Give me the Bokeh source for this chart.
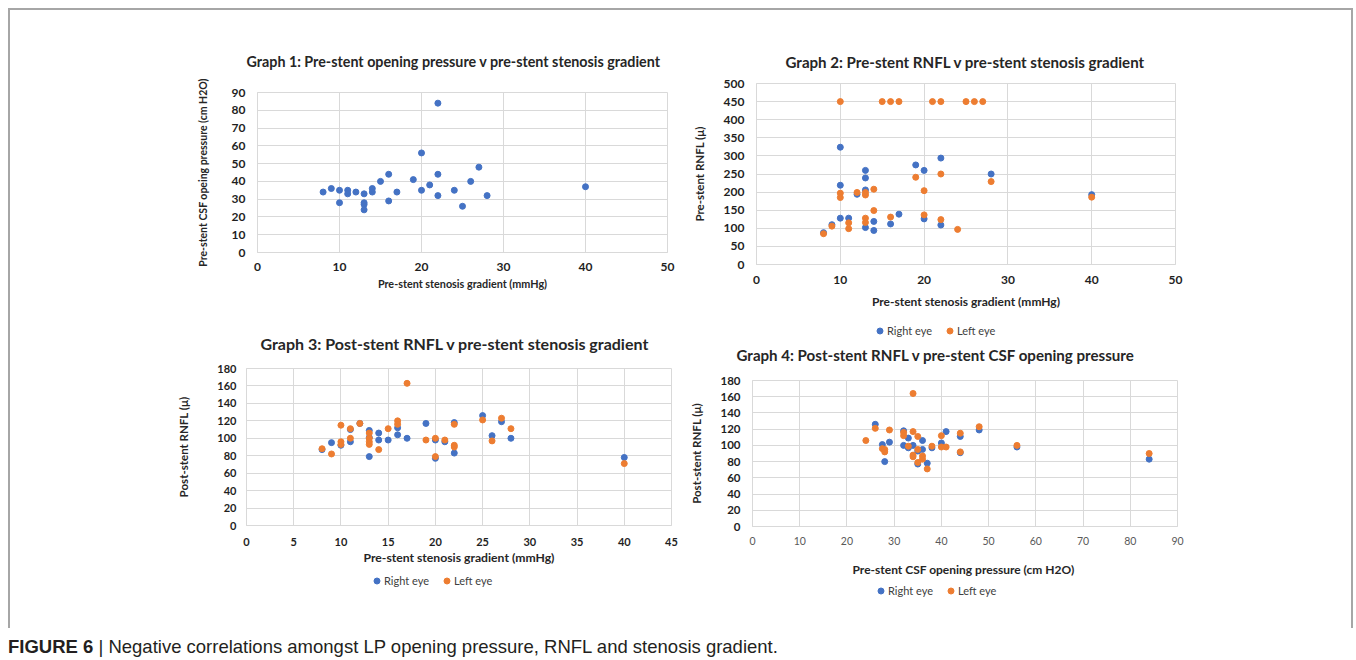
from bokeh.plotting import figure
from bokeh.models import Legend, LegendItem, Div, Title, FixedTicker, Range1d
from bokeh.layouts import column, row
from bokeh.embed import file_html
from bokeh.resources import INLINE

# ---------------- data ----------------
# Graph 1: pre-stent stenosis gradient (mmHg) vs pre-stent CSF opening pressure (cm H2O)
g1_x = [8, 9, 10, 10, 11, 11, 12, 13, 13, 13, 13, 14, 14, 15, 16, 16, 17, 19, 20, 20, 21, 22, 22, 22, 24, 25, 26, 27, 28, 40]
g1_y = [34, 36, 35, 28, 35, 33, 34, 33, 28, 27, 24, 36, 34, 40, 44, 29, 34, 41, 56, 35, 38, 84, 44, 32, 35, 26, 40, 48, 32, 37]

# Graph 2: pre-stent stenosis gradient vs pre-stent RNFL
g2_right_x = [8, 9, 10, 10, 10, 11, 12, 13, 13, 13, 13, 14, 14, 16, 17, 19, 20, 20, 22, 22, 28, 40]
g2_right_y = [88, 110, 324, 219, 128, 128, 194, 260, 239, 206, 102, 119, 94, 112, 139, 275, 260, 126, 294, 109, 250, 193]
g2_left_x = [8, 9, 10, 10, 10, 11, 11, 12, 13, 13, 13, 13, 14, 14, 15, 16, 16, 17, 19, 20, 20, 21, 22, 22, 22, 24, 25, 26, 27, 28, 40]
g2_left_y = [85, 106, 450, 197, 185, 115, 99, 199, 199, 192, 128, 116, 208, 149, 450, 450, 131, 450, 241, 204, 137, 450, 450, 250, 124, 97, 450, 450, 450, 229, 186]

# Graph 3: pre-stent stenosis gradient vs post-stent RNFL
g3_right_x = [8, 9, 10, 11, 11, 12, 13, 13, 13, 14, 14, 15, 16, 16, 17, 19, 20, 20, 21, 22, 22, 25, 26, 27, 28, 40]
g3_right_y = [87, 95, 92, 110, 96, 117, 109, 101, 79, 106, 98, 98, 112, 104, 100, 117, 98, 77, 96, 118, 83, 126, 103, 119, 100, 78]
g3_left_x = [8, 9, 10, 10, 10, 11, 11, 12, 13, 13, 13, 13, 14, 15, 16, 16, 17, 19, 20, 20, 21, 22, 22, 22, 25, 26, 27, 28, 40]
g3_left_y = [88, 82, 115, 96, 93, 111, 100, 117, 106, 100, 96, 93, 87, 111, 120, 116, 163, 98, 100, 79, 98, 116, 92, 90, 121, 97, 123, 111, 71]

# Graph 4: pre-stent CSF opening pressure vs post-stent RNFL
g4_right_x = [26, 27.5, 28, 29, 32, 32, 33, 33, 34, 35, 35, 36, 36, 37, 38, 40, 41, 44, 44, 48, 56, 84]
g4_right_y = [126, 101, 80, 104, 118, 100, 109, 97, 100, 93, 77, 106, 95, 78, 97, 103, 117, 111, 91, 119, 98, 83]
g4_left_x = [24, 26, 27.5, 28, 28, 29, 32, 32, 33, 34, 34, 34, 34, 35, 35, 35, 36, 36, 37, 38, 40, 40, 41, 44, 44, 48, 56, 84]
g4_left_y = [106, 121, 96, 95, 92, 119, 116, 112, 99, 164, 117, 88, 86, 111, 95, 79, 87, 83, 71, 99, 112, 98, 98, 115, 92, 123, 100, 90]

# tick values
g1_xticks = [0, 10, 20, 30, 40, 50]
g1_yticks = [0, 10, 20, 30, 40, 50, 60, 70, 80, 90]
g2_xticks = [0, 10, 20, 30, 40, 50]
g2_yticks = [0, 50, 100, 150, 200, 250, 300, 350, 400, 450, 500]
g3_xticks = [0, 5, 10, 15, 20, 25, 30, 35, 40, 45]
g3_yticks = [0, 20, 40, 60, 80, 100, 120, 140, 160, 180]
g4_xticks = [0, 10, 20, 30, 40, 50, 60, 70, 80, 90]
g4_yticks = [0, 20, 40, 60, 80, 100, 120, 140, 160, 180]

titles = [
    "Graph 1: Pre-stent opening pressure v pre-stent stenosis gradient",
    "Graph 2: Pre-stent RNFL v pre-stent stenosis gradient",
    "Graph 3: Post-stent RNFL v pre-stent stenosis gradient",
    "Graph 4: Post-stent RNFL v pre-stent CSF opening pressure",
]
series_names = ["Right eye", "Left eye"]

BLUE = "#4472C4"
ORANGE = "#ED7D31"
GRID = "#d9d9d9"
FONT = "Lato"


def make_fig(title, w, h, mb, xticks, yticks, xlabel, ylabel, st, margin=None):
    kw = {}
    if margin is not None:
        kw["margin"] = margin
    p = figure(width=w, height=h, output_backend="svg", toolbar_location=None,
               x_range=Range1d(xticks[0], xticks[-1]), y_range=Range1d(yticks[0], yticks[-1]),
               min_border_left=mb[0], min_border_right=mb[1],
               min_border_top=mb[2], min_border_bottom=mb[3],
               background_fill_color="white", border_fill_color=None,
               outline_line_color=GRID, **kw)
    t = Title(text=title, align="left", text_font=FONT, text_font_style="bold",
              text_font_size=st["title_size"], text_color="#262626",
              standoff=st["title_standoff"], offset=st["title_offset"])
    p.add_layout(t, "above")
    p.xaxis.ticker = FixedTicker(ticks=xticks)
    p.yaxis.ticker = FixedTicker(ticks=yticks)
    for ax in (p.xaxis[0], p.yaxis[0]):
        ax.axis_line_color = GRID
        ax.major_tick_line_color = None
        ax.minor_tick_line_color = None
        ax.major_tick_out = 0
        ax.major_tick_in = 0
        ax.minor_tick_out = 0
        ax.minor_tick_in = 0
        ax.major_label_text_font = FONT
        ax.axis_label_text_font = FONT
        ax.axis_label_text_font_style = "bold"
        ax.axis_label_text_color = "#262626"
    p.xaxis.axis_label = xlabel
    p.yaxis.axis_label = ylabel
    p.xaxis.major_label_text_font_size = st["xtick_size"]
    p.yaxis.major_label_text_font_size = st["ytick_size"]
    p.xaxis.major_label_text_font_style = st["xtick_style"]
    p.yaxis.major_label_text_font_style = "bold"
    p.xaxis.major_label_text_color = st["xtick_color"]
    p.yaxis.major_label_text_color = "#1f1f1f"
    p.xaxis.major_label_standoff = st["xtick_standoff"]
    p.yaxis.major_label_standoff = st["ytick_standoff"]
    p.xaxis.axis_label_text_font_size = st["xlabel_size"]
    p.yaxis.axis_label_text_font_size = st["ylabel_size"]
    p.xaxis.axis_label_standoff = st["xlabel_standoff"]
    p.yaxis.axis_label_standoff = st["ylabel_standoff"]
    p.xgrid.grid_line_color = GRID
    p.ygrid.grid_line_color = GRID
    p.xgrid.ticker = FixedTicker(ticks=xticks)
    p.ygrid.ticker = FixedTicker(ticks=yticks)
    return p


def legend_fig(w, h, x, y, rx, ry, lx, ly):
    # a strip that only carries the series legend below a chart;
    # its range (0..1) lies outside the data, so only the legend shows
    lf = figure(width=w, height=h, output_backend="svg", toolbar_location=None,
                min_border=0, x_axis_location=None, y_axis_location=None,
                x_range=Range1d(0, 1), y_range=Range1d(0, 1),
                outline_line_color=None, background_fill_color=None, border_fill_color=None)
    lf.xgrid.visible = False
    lf.ygrid.visible = False
    rb = lf.scatter(rx, ry, size=6, color=BLUE)
    ro = lf.scatter(lx, ly, size=6, color=ORANGE)
    leg = Legend(items=[LegendItem(label=series_names[0], renderers=[rb]),
                        LegendItem(label=series_names[1], renderers=[ro])],
                 orientation="horizontal", location=(x, y),
                 border_line_color=None, background_fill_alpha=0,
                 padding=0, margin=0, spacing=10, label_standoff=0,
                 glyph_width=15, glyph_height=15, label_height=15,
                 label_text_font=FONT, label_text_font_size="11px",
                 label_text_color="#404040")
    lf.add_layout(leg)
    return lf


# Graph 1
p1 = make_fig(titles[0], 670, 310, (247, 13, 82, 68), g1_xticks, g1_yticks,
              "Pre-stent stenosis gradient (mmHg)", "Pre-stent CSF opeing pressure (cm H2O)",
              dict(title_size="14.3px", title_standoff=46, title_offset=-11,
                   xtick_size="12px", ytick_size="12px", xtick_style="bold", xtick_color="#1f1f1f",
                   xtick_standoff=10, ytick_standoff=12, xlabel_size="10.8px", ylabel_size="10.5px",
                   xlabel_standoff=3, ylabel_standoff=20))
p1.scatter(g1_x, g1_y, size=6, color=BLUE)

# Graph 2
p2 = make_fig(titles[1], 671, 302, (76, 176, 73, 48), g2_xticks, g2_yticks,
              "Pre-stent stenosis gradient (mmHg)", "Pre-stent RNFL (μ)",
              dict(title_size="15.1px", title_standoff=25, title_offset=29,
                   xtick_size="12px", ytick_size="12px", xtick_style="bold", xtick_color="#1f1f1f",
                   xtick_standoff=11, ytick_standoff=12, xlabel_size="12px", ylabel_size="11.5px",
                   xlabel_standoff=7, ylabel_standoff=15))
p2.scatter(g2_right_x, g2_right_y, size=6, color=BLUE)
p2.scatter(g2_left_x, g2_left_y, size=6, color=ORANGE)
leg2 = legend_fig(671, 26, 192, 0, g2_right_x, g2_right_y, g2_left_x, g2_left_y)

# Graph 3
p3 = make_fig(titles[2], 670, 252, (236, 9, 52, 43), g3_xticks, g3_yticks,
              "Pre-stent stenosis gradient (mmHg)", "Post-stent RNFL (μ)",
              dict(title_size="16px", title_standoff=31, title_offset=14,
                   xtick_size="11px", ytick_size="11px", xtick_style="bold", xtick_color="#1f1f1f",
                   xtick_standoff=12, ytick_standoff=10, xlabel_size="12.2px", ylabel_size="11.5px",
                   xlabel_standoff=1, ylabel_standoff=24),
              margin=(-4, 0, 0, 0))
p3.scatter(g3_right_x, g3_right_y, size=6, color=BLUE)
p3.scatter(g3_left_x, g3_left_y, size=6, color=ORANGE)
leg3 = legend_fig(670, 60, 359, 40, g3_right_x, g3_right_y, g3_left_x, g3_left_y)

# Graph 4
p4 = make_fig(titles[3], 671, 254, (72, 174, 52, 55), g4_xticks, g4_yticks,
              "Pre-stent  CSF opening pressure (cm H2O)", "Post-stent RNFL (μ)",
              dict(title_size="15.1px", title_standoff=33, title_offset=-16,
                   xtick_size="10.5px", ytick_size="11.5px", xtick_style="normal", xtick_color="#595959",
                   xtick_standoff=10, ytick_standoff=12, xlabel_size="12px", ylabel_size="11.5px",
                   xlabel_standoff=14, ylabel_standoff=14),
              margin=(-11, 0, 0, 0))
p4.scatter(g4_right_x, g4_right_y, size=6, color=BLUE)
p4.scatter(g4_left_x, g4_left_y, size=6, color=ORANGE)
leg4 = legend_fig(671, 47, 193, 30, g4_right_x, g4_right_y, g4_left_x, g4_left_y)

caption = Div(text='<span style="font-weight:bold">FIGURE 6</span> | Negative correlations amongst LP opening pressure, RNFL and stenosis gradient.',
              width=1340, height=30, margin=(6, 0, 0, 0),
              styles={"font-family": "'Liberation Sans', Arial, sans-serif", "font-size": "18.5px",
                      "color": "#231f20", "white-space": "nowrap"})

left_col = column(column(p1), column(p3), column(leg3))
right_col = column(column(p2), column(leg2), column(p4), column(leg4))
grid = row(left_col, right_col,
           styles={"border-top": "2px solid #a6a6a6", "border-left": "2px solid #a6a6a6",
                   "border-right": "2px solid #a6a6a6"})
layout = column(grid, caption, margin=(8, 0, 0, 8))

open("out.html", "w").write(file_html(layout, INLINE))
